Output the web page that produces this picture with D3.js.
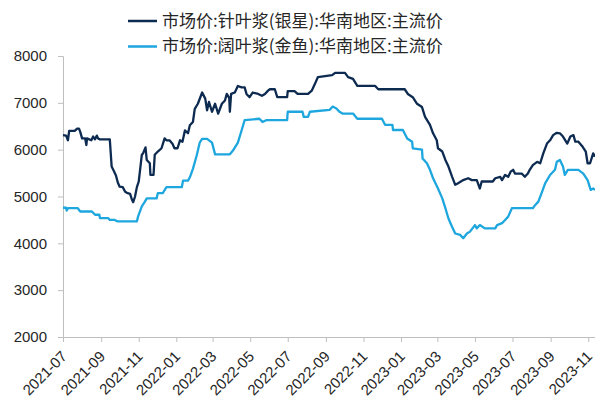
<!DOCTYPE html>
<html><head><meta charset="utf-8">
<script src="https://cdn.jsdelivr.net/npm/d3@7"></script>
<style>
html,body{margin:0;padding:0;background:#fff;}
svg{display:block;}
</style></head>
<body>
<svg id="c" width="595" height="402"></svg>
<script>
const seriesNames = ["市场价:针叶浆(银星):华南地区:主流价", "市场价:阔叶浆(金鱼):华南地区:主流价"];
const yTicks = [2000, 3000, 4000, 5000, 6000, 7000, 8000];
const xTickLabels = ["2021-07","2021-09","2021-11","2022-01","2022-03","2022-05","2022-07","2022-09","2022-11","2023-01","2023-03","2023-05","2023-07","2023-09","2023-11"];

const softwood = [
["2021-07-01",6310],["2021-07-06",6300],["2021-07-09",6200],["2021-07-11",6400],["2021-07-20",6400],["2021-07-24",6450],["2021-07-27",6450],["2021-07-29",6380],
["2021-08-01",6240],["2021-08-06",6240],["2021-08-08",6100],["2021-08-09",6240],["2021-08-16",6200],["2021-08-19",6280],["2021-08-22",6220],["2021-08-25",6300],["2021-08-27",6240],["2021-08-30",6220],
["2021-09-15",6220],["2021-09-18",5640],["2021-09-21",5560],["2021-09-25",5450],["2021-09-28",5300],["2021-10-01",5210],["2021-10-06",5200],["2021-10-10",5100],["2021-10-14",5070],["2021-10-18",5055],["2021-10-21",4930],["2021-10-23",4880],["2021-10-26",5000],["2021-10-29",5200],
["2021-11-01",5320],["2021-11-06",5890],["2021-11-08",5920],["2021-11-12",6050],["2021-11-14",5780],["2021-11-19",5710],["2021-11-20",5460],["2021-11-25",5460],["2021-11-27",5890],
["2021-12-02",5960],["2021-12-08",6030],["2021-12-13",6240],["2021-12-16",6200],["2021-12-21",6200],["2021-12-26",6120],["2021-12-29",6030],
["2022-01-03",6030],["2022-01-07",6200],["2022-01-11",6170],["2022-01-15",6410],["2022-01-20",6350],["2022-01-23",6520],["2022-01-28",6590],["2022-01-31",6870],
["2022-02-05",6980],["2022-02-12",7220],["2022-02-17",7090],["2022-02-20",6840],["2022-02-23",7020],["2022-02-28",6810],
["2022-03-05",6980],["2022-03-10",6770],["2022-03-16",6980],["2022-03-21",7050],["2022-03-24",7190],["2022-03-28",7100],["2022-03-29",6810],["2022-03-31",7190],
["2022-04-06",7220],["2022-04-11",7360],["2022-04-17",7330],["2022-04-22",7330],["2022-04-25",7190],["2022-04-30",7120],
["2022-05-05",7220],["2022-05-14",7190],["2022-05-20",7150],["2022-05-25",7190],["2022-05-30",7260],
["2022-06-02",7290],["2022-06-10",7290],["2022-06-14",7120],["2022-06-30",7120],["2022-07-01",7250],["2022-07-12",7250],["2022-07-17",7190],
["2022-08-03",7190],["2022-08-09",7260],["2022-08-14",7400],["2022-08-19",7550],["2022-09-11",7590],["2022-09-16",7640],["2022-10-02",7640],["2022-10-07",7550],["2022-10-15",7510],["2022-10-22",7360],
["2022-11-20",7360],["2022-11-25",7290],["2023-01-07",7290],["2023-01-12",7190],["2023-01-20",7120],["2023-01-27",6980],
["2023-02-04",6910],["2023-02-09",6700],["2023-02-17",6530],["2023-02-22",6350],["2023-02-28",6200],
["2023-03-02",6030],["2023-03-09",5960],["2023-03-14",5780],["2023-03-19",5640],["2023-03-25",5420],["2023-03-30",5250],
["2023-04-03",5280],["2023-04-12",5350],["2023-04-20",5390],["2023-04-26",5350],["2023-05-04",5350],["2023-05-09",5170],["2023-05-12",5320],["2023-05-30",5320],
["2023-06-03",5390],["2023-06-11",5420],["2023-06-14",5350],["2023-06-19",5460],["2023-06-24",5420],["2023-06-28",5530],
["2023-07-02",5570],["2023-07-05",5490],["2023-07-16",5490],["2023-07-21",5420],["2023-07-26",5490],["2023-07-29",5570],
["2023-08-03",5670],["2023-08-10",5740],["2023-08-15",5710],["2023-08-20",5920],["2023-08-26",6130],["2023-08-31",6200],
["2023-09-05",6310],["2023-09-11",6360],["2023-09-16",6350],["2023-09-21",6280],["2023-09-28",6130],
["2023-10-03",6280],["2023-10-08",6310],["2023-10-11",6170],["2023-10-16",6170],["2023-10-23",6060],["2023-10-28",5960],["2023-10-31",5710],
["2023-11-04",5710],["2023-11-09",5920],["2023-11-12",5850]
];

const hardwood = [
["2021-07-01",4760],["2021-07-06",4760],["2021-07-07",4700],["2021-07-09",4750],["2021-07-25",4750],["2021-07-29",4680],["2021-08-17",4680],["2021-08-22",4610],["2021-08-29",4610],["2021-08-30",4540],
["2021-09-12",4540],["2021-09-15",4500],["2021-09-23",4500],["2021-09-27",4470],["2021-10-29",4470],["2021-10-31",4575],["2021-11-06",4790],["2021-11-11",4890],["2021-11-14",4960],["2021-11-30",4960],
["2021-12-02",5070],["2021-12-10",5070],["2021-12-16",5200],["2022-01-10",5200],["2022-01-12",5340],["2022-01-20",5340],["2022-01-23",5410],["2022-01-28",5590],
["2022-02-03",5870],["2022-02-08",6150],["2022-02-12",6230],["2022-02-20",6230],["2022-02-28",6150],["2022-03-05",5900],["2022-03-29",5900],
["2022-04-03",5980],["2022-04-11",6150],["2022-04-17",6410],["2022-04-22",6630],["2022-05-16",6660],["2022-05-21",6590],["2022-05-27",6630],["2022-06-30",6630],
["2022-07-01",6810],["2022-07-25",6810],["2022-07-27",6700],["2022-08-03",6700],["2022-08-06",6810],["2022-09-07",6850],["2022-09-12",6920],["2022-09-18",6880],["2022-09-23",6810],["2022-09-28",6770],
["2022-10-15",6770],["2022-10-22",6660],["2022-12-01",6660],["2022-12-06",6530],["2022-12-18",6530],["2022-12-19",6420],["2023-01-04",6420],["2023-01-11",6240],["2023-01-19",6170],["2023-01-20",6030],
["2023-02-04",6000],["2023-02-05",5810],["2023-02-12",5710],["2023-02-17",5570],["2023-02-22",5390],["2023-03-02",5170],["2023-03-09",4960],["2023-03-14",4750],["2023-03-19",4530],["2023-03-25",4350],["2023-03-30",4210],
["2023-04-07",4180],["2023-04-12",4110],["2023-04-18",4210],["2023-04-23",4250],["2023-05-01",4390],["2023-05-04",4320],["2023-05-09",4390],["2023-05-17",4320],["2023-06-03",4320],["2023-06-06",4390],
["2023-06-14",4430],["2023-06-19",4500],["2023-06-24",4570],["2023-06-30",4750],["2023-08-03",4750],["2023-08-07",4820],["2023-08-12",4890],["2023-08-18",5100],["2023-08-23",5280],["2023-08-31",5460],
["2023-09-08",5570],["2023-09-11",5740],["2023-09-16",5780],["2023-09-21",5640],["2023-09-24",5460],["2023-09-29",5570],["2023-10-16",5570],["2023-10-24",5490],["2023-10-31",5350],
["2023-11-05",5140],["2023-11-09",5170],["2023-11-12",5140]
];

const colors = ["#0d2a50", "#1ea6df"];
const parse = d3.timeParse("%Y-%m-%d");
const parseM = d3.timeParse("%Y-%m");

const svg = d3.select("#c");
const margin = {left: 63, right: 0};
const W = 595;

const x = d3.scaleTime()
  .domain([parse("2021-07-01"), parse("2023-11-12")])
  .range([margin.left, W - margin.right]);
const y = d3.scaleLinear().domain([2000, 8000]).range([337, 56]);

const fontNum = "'Liberation Sans', Arial, 'DejaVu Sans', sans-serif";

// y axis
const gy = svg.append("g").attr("transform", `translate(${margin.left},0)`)
  .call(d3.axisLeft(y).tickValues(yTicks).tickFormat(d3.format("d")).tickSize(5).tickPadding(11));
gy.select(".domain").attr("stroke", "#bfbfbf").attr("stroke-width", 1);
gy.selectAll(".tick line").attr("stroke", "#bfbfbf");
gy.selectAll(".tick text").attr("font-family", fontNum).attr("font-size", 15).attr("fill", "#262626");

// x axis
const gx = svg.append("g").attr("transform", `translate(0,${y(2000)})`)
  .call(d3.axisBottom(x).tickValues(xTickLabels.map(parseM)).tickFormat(d3.timeFormat("%Y-%m")).tickSize(5).tickSizeOuter(0));
gx.select(".domain").attr("stroke", "#bfbfbf").attr("stroke-width", 1);
gx.selectAll(".tick line").attr("stroke", "#bfbfbf");
gx.selectAll(".tick text")
  .attr("font-family", fontNum).attr("font-size", 15).attr("fill", "#262626")
  .attr("text-anchor", "end")
  .attr("dy", "0.35em")
  .attr("transform", "translate(-5,11) rotate(-45)");

const line = d3.line().x(d => x(parse(d[0]))).y(d => y(d[1]));

[hardwood, softwood].forEach((s, i) => {
  svg.append("path").datum(s)
    .attr("fill", "none")
    .attr("stroke", i === 0 ? colors[1] : colors[0])
    .attr("stroke-width", 2.3)
    .attr("stroke-linejoin", "round")
    .attr("d", line);
});

// legend
const lg = svg.append("g");
seriesNames.forEach((n, i) => {
  const yy = 21 + i * 25.5;
  lg.append("line").attr("x1", 128).attr("x2", 157).attr("y1", yy).attr("y2", yy)
    .attr("stroke", colors[i]).attr("stroke-width", 2.5);
  lg.append("text").attr("x", 162).attr("y", yy).attr("dy", "0.35em")
    .attr("font-family", "'Noto Sans CJK SC', sans-serif").attr("font-size", 17).attr("fill", "#262626")
    .text(n);
});
</script>
</body></html>
